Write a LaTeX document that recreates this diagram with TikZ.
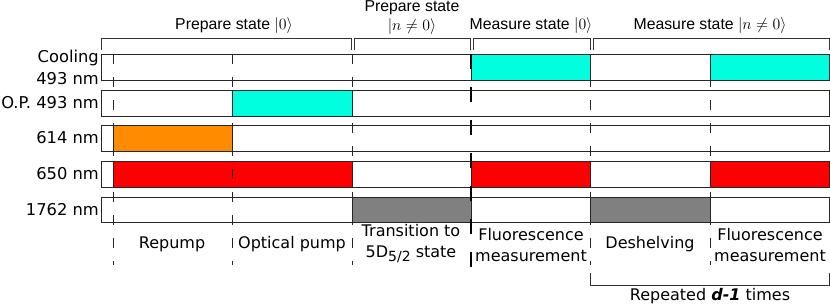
\RequirePackage{fix-cm}
\documentclass[tikz,border=0pt]{standalone}
\usepackage{fontspec}
\setmainfont{DejaVu Sans}
\newfontfamily\hdrfont{Liberation Sans}
\definecolor{cyanfill}{RGB}{0,255,222}
\definecolor{orangefill}{RGB}{255,140,0}
\definecolor{redfill}{RGB}{255,0,0}
\definecolor{grayfill}{RGB}{128,128,128}
\begin{document}
\begin{tikzpicture}[x=1pt,y=-1pt,
  rowbox/.style={draw=black!85, line width=0.9pt},
  pulse/.style={draw=black!85, line width=0.9pt},
  dline/.style={draw=black!85, line width=1pt, dash pattern=on 10pt off 13pt},
  thickdash/.style={draw=black, line width=2.8pt, dash pattern=on 15pt off 18pt},
  bracket/.style={draw=black!80, line width=0.9pt},
  rowlabel/.style={anchor=east, inner sep=0pt, font=\fontsize{16.3}{19}\selectfont},
  phase/.style={inner sep=0pt, align=center, font=\fontsize{16}{21}\selectfont},
  hdr/.style={inner sep=0pt, align=center, font=\hdrfont\fontsize{15.8}{18}\selectfont}]
\useasboundingbox[fill=white] (0,0) rectangle (830,303);

% row outlines
\draw[rowbox] (101,54) rectangle (829,80);
\draw[rowbox] (101,90) rectangle (829,116);
\draw[rowbox] (101,125) rectangle (829,151);
\draw[rowbox] (101,161) rectangle (829,187);
\draw[rowbox] (101,197) rectangle (829,222);

% pulses
\draw[pulse, fill=cyanfill] (471,54) rectangle (590,80);
\draw[pulse, fill=cyanfill] (710,54) rectangle (829,80);
\draw[pulse, fill=cyanfill] (232,90) rectangle (352,116);
\draw[pulse, fill=orangefill] (113,125) rectangle (232,151);
\draw[pulse, fill=redfill] (113,161) rectangle (352,187);
\draw[pulse, fill=redfill] (471,161) rectangle (590,187);
\draw[pulse, fill=redfill] (710,161) rectangle (829,187);
\draw[pulse, fill=grayfill] (352,197) rectangle (471,222);
\draw[pulse, fill=grayfill] (590,197) rectangle (710,222);

% dashed time markers
\coordinate (d1t) at (113,54);  \coordinate (d1b) at (113,265);
\coordinate (d2t) at (232,54);  \coordinate (d2b) at (232,265);
\coordinate (d3t) at (352,54);  \coordinate (d3b) at (352,265);
\coordinate (d5t) at (590,54);  \coordinate (d5b) at (590,265);
\coordinate (d6t) at (710,54);  \coordinate (d6b) at (710,265);
\coordinate (d4t) at (471,54);  \coordinate (d4b) at (471,270);
\draw[dline] (d1t) -- (d1b);
\draw[dline] (d2t) -- (d2b);
\draw[dline] (d3t) -- (d3b);
\draw[dline] (d5t) -- (d5b);
\draw[dline] (d6t) -- (d6b);
\draw[thickdash] (d4t) -- (d4b);

% top brackets
\draw[bracket] (101,50) -- (101,38) -- (351,38) -- (351,50);
\draw[bracket] (354,50) -- (354,38) -- (470,38) -- (470,50);
\draw[bracket] (473,50) -- (473,38) -- (590,38) -- (590,50);
\draw[bracket] (593,50) -- (593,38) -- (829,38) -- (829,50);

% bottom bracket
\draw[bracket] (590,273) -- (590,285) -- (829,285) -- (829,273);

% header labels
\node[hdr] (h1) at (234,26) {Prepare state $|0\rangle$};
\node[hdr] (h2a) at (412,8) {Prepare state};
\node[hdr] (h2b) at (412,27) {$|n\neq 0\rangle$};
\node[hdr] (h3) at (531,26) {Measure state $|0\rangle$};
\node[hdr] (h4) at (710,26) {Measure state $|n\neq 0\rangle$};

% row labels
\node[rowlabel] (l1a) at (99,58) {Cooling};
\node[rowlabel] (l1b) at (99,79) {493 nm};
\node[rowlabel] (l2) at (99,103) {O.P. 493 nm};
\node[rowlabel] (l3) at (99,138) {614 nm};
\node[rowlabel] (l4) at (99,174) {650 nm};
\node[rowlabel] (l5) at (99,210) {1762 nm};

% phase labels
\node[phase] (p1) at (172,244) {Repump};
\node[phase] (p2) at (292,244) {Optical pump};
\node[phase] (p3) at (411,244) {Transition to\\5D\raisebox{-0.45ex}{\fontsize{14}{16}\selectfont 5/2} state};
\node[phase] (p4) at (531,245) {Fluorescence\\measurement};
\node[phase] (p5) at (650,244) {Deshelving};
\node[phase] (p6) at (770,245) {Fluorescence\\measurement};
\node[phase] (rep) at (710,296) {Repeated \textbf{\textit{d-1}} times};
\end{tikzpicture}
\end{document}
